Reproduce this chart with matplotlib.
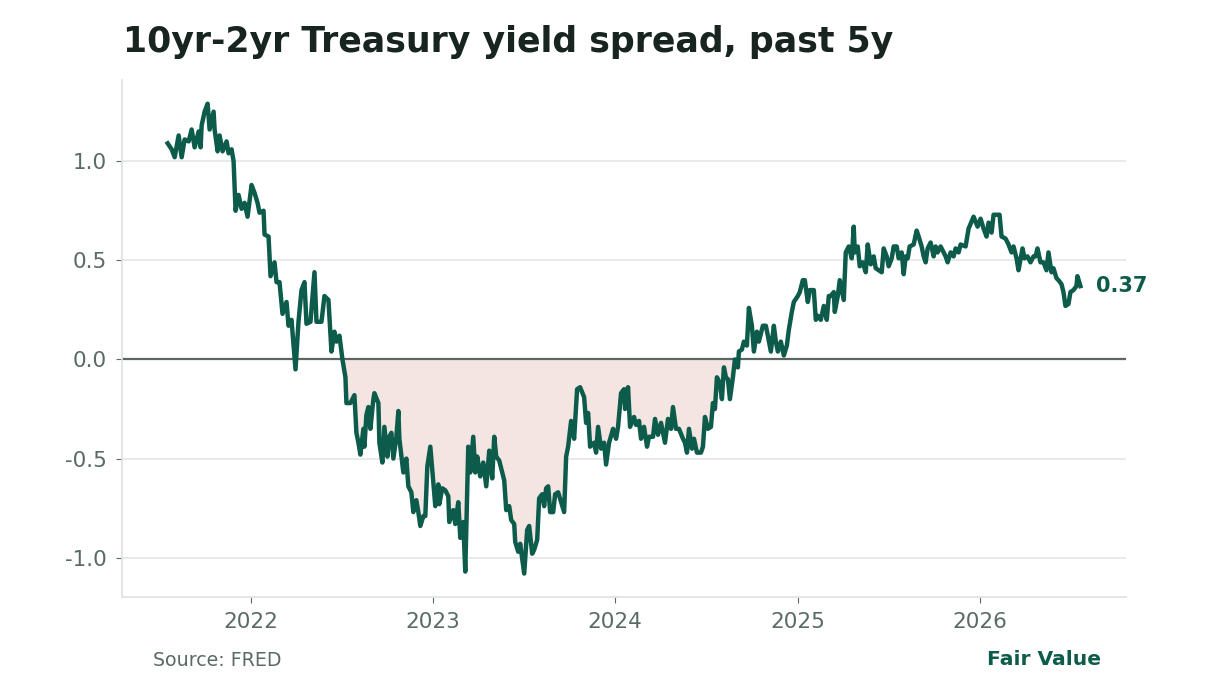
import matplotlib
matplotlib.use("Agg")
import matplotlib.pyplot as plt
import matplotlib.dates as mdates
import numpy as np
import pandas as pd

# 10yr-2yr spread (percentage points)
dates = [
    # 2021
    "2021-07-19", "2021-07-27", "2021-08-02", "2021-08-10", "2021-08-16", "2021-08-22",
    "2021-08-30", "2021-09-05", "2021-09-11", "2021-09-19", "2021-09-23", "2021-09-25",
    "2021-10-01", "2021-10-07", "2021-10-11", "2021-10-19", "2021-10-21", "2021-10-27",
    "2021-10-31", "2021-11-06", "2021-11-14", "2021-11-18", "2021-11-24", "2021-11-28",
    "2021-12-02", "2021-12-08", "2021-12-14", "2021-12-20", "2021-12-26",
    # 2022
    "2022-01-03", "2022-01-09", "2022-01-15", "2022-01-19", "2022-01-27", "2022-01-29",
    "2022-02-06", "2022-02-10", "2022-02-18", "2022-02-22", "2022-02-28", "2022-03-06",
    "2022-03-14", "2022-03-18", "2022-03-24", "2022-04-01", "2022-04-07", "2022-04-13",
    "2022-04-19", "2022-04-23", "2022-05-01", "2022-05-09", "2022-05-13", "2022-05-19",
    "2022-05-23", "2022-05-29", "2022-06-06", "2022-06-12", "2022-06-18", "2022-06-22",
    "2022-06-28", "2022-07-04", "2022-07-10", "2022-07-12", "2022-07-20", "2022-07-28",
    "2022-08-01", "2022-08-05", "2022-08-09", "2022-08-15", "2022-08-17", "2022-08-21",
    "2022-08-25", "2022-08-29", "2022-09-04", "2022-09-06", "2022-09-14", "2022-09-16",
    "2022-09-22", "2022-09-26", "2022-10-02", "2022-10-06", "2022-10-10", "2022-10-14",
    "2022-10-20", "2022-10-24", "2022-10-26", "2022-11-03", "2022-11-09", "2022-11-13",
    "2022-11-19", "2022-11-23", "2022-11-29", "2022-12-03", "2022-12-07", "2022-12-13",
    "2022-12-17", "2022-12-21", "2022-12-27",
    # 2023
    "2023-01-02", "2023-01-06", "2023-01-12", "2023-01-14", "2023-01-20", "2023-01-26",
    "2023-02-01", "2023-02-03", "2023-02-11", "2023-02-15", "2023-02-21", "2023-02-25",
    "2023-03-03", "2023-03-07", "2023-03-13", "2023-03-17", "2023-03-23", "2023-03-27",
    "2023-03-31", "2023-04-06", "2023-04-12", "2023-04-18", "2023-04-24", "2023-04-30",
    "2023-05-04", "2023-05-08", "2023-05-14", "2023-05-24", "2023-05-28", "2023-06-03",
    "2023-06-07", "2023-06-13", "2023-06-15", "2023-06-21", "2023-06-25", "2023-07-01",
    "2023-07-03", "2023-07-09", "2023-07-13", "2023-07-19", "2023-07-23", "2023-07-29",
    "2023-08-02", "2023-08-08", "2023-08-12", "2023-08-16", "2023-08-20", "2023-08-24",
    "2023-08-30", "2023-09-03", "2023-09-09", "2023-09-15", "2023-09-21", "2023-09-25",
    "2023-09-29", "2023-10-05", "2023-10-11", "2023-10-17", "2023-10-23", "2023-10-31",
    "2023-11-04", "2023-11-08", "2023-11-12", "2023-11-20", "2023-11-24", "2023-11-28",
    "2023-12-04", "2023-12-10", "2023-12-14", "2023-12-20", "2023-12-28",
    # 2024
    "2024-01-03", "2024-01-07", "2024-01-13", "2024-01-19", "2024-01-21", "2024-01-27",
    "2024-01-31", "2024-02-08", "2024-02-12", "2024-02-18", "2024-02-22", "2024-02-28",
    "2024-03-05", "2024-03-09", "2024-03-17", "2024-03-21", "2024-03-27", "2024-03-31",
    "2024-04-02", "2024-04-10", "2024-04-16", "2024-04-22", "2024-04-26", "2024-05-02",
    "2024-05-08", "2024-05-16", "2024-05-20", "2024-05-24", "2024-05-28", "2024-06-03",
    "2024-06-07", "2024-06-13", "2024-06-21", "2024-06-25", "2024-06-29", "2024-07-05",
    "2024-07-11", "2024-07-15", "2024-07-19", "2024-07-23", "2024-07-29", "2024-08-02",
    "2024-08-06", "2024-08-10", "2024-08-14", "2024-08-18", "2024-08-24", "2024-08-28",
    "2024-09-03", "2024-09-05", "2024-09-11", "2024-09-15", "2024-09-21", "2024-09-25",
    "2024-10-01", "2024-10-05", "2024-10-11", "2024-10-15", "2024-10-23", "2024-10-29",
    "2024-11-02", "2024-11-08", "2024-11-14", "2024-11-18", "2024-11-22", "2024-11-28",
    "2024-12-04", "2024-12-10", "2024-12-14", "2024-12-20", "2024-12-24",
    # 2025
    "2025-01-01", "2025-01-05", "2025-01-11", "2025-01-15", "2025-01-21", "2025-01-25",
    "2025-02-02", "2025-02-06", "2025-02-10", "2025-02-16", "2025-02-22", "2025-02-28",
    "2025-03-04", "2025-03-08", "2025-03-14", "2025-03-16", "2025-03-22", "2025-03-26",
    "2025-04-03", "2025-04-07", "2025-04-13", "2025-04-19", "2025-04-23", "2025-04-25",
    "2025-05-01", "2025-05-05", "2025-05-11", "2025-05-17", "2025-05-21", "2025-05-27",
    "2025-06-02", "2025-06-06", "2025-06-12", "2025-06-18", "2025-06-22", "2025-06-28",
    "2025-07-02", "2025-07-08", "2025-07-12", "2025-07-18", "2025-07-22", "2025-07-28",
    "2025-08-01", "2025-08-05", "2025-08-09", "2025-08-13", "2025-08-21", "2025-08-27",
    "2025-08-31", "2025-09-06", "2025-09-10", "2025-09-14", "2025-09-18", "2025-09-24",
    "2025-09-30", "2025-10-04", "2025-10-08", "2025-10-14", "2025-10-20", "2025-10-24",
    "2025-10-28", "2025-11-03", "2025-11-09", "2025-11-13", "2025-11-19", "2025-11-23",
    "2025-12-03", "2025-12-09", "2025-12-19", "2025-12-27",
    # 2026
    "2026-01-02", "2026-01-08", "2026-01-14", "2026-01-18", "2026-01-24", "2026-01-28",
    "2026-02-05", "2026-02-09", "2026-02-13", "2026-02-21", "2026-02-27", "2026-03-05",
    "2026-03-09", "2026-03-15", "2026-03-19", "2026-03-27", "2026-03-31", "2026-04-06",
    "2026-04-12", "2026-04-18", "2026-04-22", "2026-04-26", "2026-05-02", "2026-05-08",
    "2026-05-14", "2026-05-18", "2026-05-24", "2026-05-28", "2026-06-03", "2026-06-07",
    "2026-06-13", "2026-06-17", "2026-06-21", "2026-06-27", "2026-07-01", "2026-07-07",
    "2026-07-13", "2026-07-15", "2026-07-21",
]

spread = [
    # 2021
    1.09, 1.06, 1.02, 1.13, 1.02, 1.11,
    1.10, 1.16, 1.07, 1.15, 1.07, 1.18,
    1.25, 1.29, 1.16, 1.25, 1.16, 1.05,
    1.13, 1.05, 1.10, 1.04, 1.06, 1.00,
    0.75, 0.83, 0.76, 0.79, 0.72,
    # 2022
    0.88, 0.84, 0.79, 0.74, 0.75, 0.63,
    0.62, 0.42, 0.49, 0.39, 0.39, 0.23,
    0.29, 0.17, 0.20, -0.05, 0.19, 0.35,
    0.39, 0.18, 0.19, 0.44, 0.19, 0.19,
    0.19, 0.32, 0.30, 0.04, 0.14, 0.09,
    0.12, 0.00, -0.09, -0.22, -0.22, -0.18,
    -0.37, -0.42, -0.48, -0.35, -0.44, -0.28,
    -0.24, -0.35, -0.20, -0.17, -0.22, -0.42,
    -0.52, -0.34, -0.49, -0.39, -0.37, -0.50,
    -0.39, -0.26, -0.40, -0.57, -0.50, -0.64,
    -0.67, -0.77, -0.71, -0.77, -0.84, -0.79,
    -0.79, -0.54, -0.44,
    # 2023
    -0.62, -0.74, -0.63, -0.73, -0.65, -0.66,
    -0.69, -0.82, -0.76, -0.83, -0.72, -0.90,
    -0.82, -1.07, -0.44, -0.57, -0.39, -0.57,
    -0.49, -0.59, -0.52, -0.64, -0.46, -0.60,
    -0.39, -0.49, -0.51, -0.61, -0.76, -0.74,
    -0.81, -0.83, -0.92, -0.97, -0.93, -1.04,
    -1.08, -0.86, -0.84, -0.98, -0.96, -0.91,
    -0.70, -0.68, -0.74, -0.65, -0.64, -0.77,
    -0.77, -0.68, -0.67, -0.72, -0.77, -0.49,
    -0.44, -0.31, -0.40, -0.15, -0.14, -0.19,
    -0.32, -0.27, -0.44, -0.42, -0.47, -0.34,
    -0.45, -0.42, -0.53, -0.42, -0.35,
    # 2024
    -0.40, -0.34, -0.17, -0.15, -0.25, -0.14,
    -0.34, -0.29, -0.33, -0.31, -0.40, -0.34,
    -0.44, -0.39, -0.39, -0.30, -0.38, -0.34,
    -0.32, -0.42, -0.30, -0.35, -0.24, -0.35,
    -0.35, -0.40, -0.42, -0.47, -0.35, -0.45,
    -0.40, -0.47, -0.47, -0.44, -0.29, -0.35,
    -0.34, -0.22, -0.25, -0.09, -0.12, -0.20,
    -0.04, -0.09, -0.10, -0.20, -0.09, 0.00,
    -0.04, 0.04, 0.05, 0.09, 0.07, 0.26,
    0.17, 0.04, 0.14, 0.09, 0.17, 0.17,
    0.12, 0.04, 0.17, 0.09, 0.04, 0.09,
    0.02, 0.07, 0.15, 0.24, 0.29,
    # 2025
    0.32, 0.34, 0.40, 0.40, 0.29, 0.35,
    0.35, 0.20, 0.22, 0.20, 0.27, 0.20,
    0.32, 0.32, 0.34, 0.24, 0.32, 0.40,
    0.30, 0.54, 0.57, 0.51, 0.67, 0.54,
    0.57, 0.47, 0.49, 0.44, 0.58, 0.48,
    0.52, 0.46, 0.45, 0.44, 0.56, 0.52,
    0.47, 0.51, 0.57, 0.57, 0.51, 0.54,
    0.43, 0.52, 0.51, 0.57, 0.58, 0.65,
    0.62, 0.57, 0.52, 0.49, 0.56, 0.59,
    0.52, 0.57, 0.54, 0.57, 0.54, 0.52,
    0.49, 0.54, 0.52, 0.56, 0.54, 0.58,
    0.57, 0.66, 0.72, 0.67,
    # 2026
    0.71, 0.66, 0.62, 0.69, 0.64, 0.73,
    0.73, 0.73, 0.62, 0.61, 0.58, 0.54,
    0.57, 0.51, 0.45, 0.56, 0.51, 0.52,
    0.49, 0.52, 0.52, 0.56, 0.49, 0.49,
    0.45, 0.54, 0.44, 0.46, 0.41, 0.40,
    0.38, 0.34, 0.27, 0.28, 0.34, 0.35,
    0.37, 0.42, 0.37,
]

title = "10yr-2yr Treasury yield spread, past 5y"
source_text = "Source: FRED"
brand_text = "Fair Value"

line_color = "#0d5c4b"
text_gray = "#5a6b66"
grid_color = "#e3e7e6"

x = pd.to_datetime(dates)
y = np.array(spread)

plt.rcParams["font.family"] = "DejaVu Sans"
plt.rcParams["axes.unicode_minus"] = False

fig = plt.figure(figsize=(12.24, 6.8), dpi=100)
ax = fig.add_axes([0.0997, 0.122, 0.8203, 0.76])

# inversion shading
ax.fill_between(x, y, 0, where=y < 0, interpolate=True, color="#f5e5e2", lw=0, zorder=1)
ax.axhline(0, color="#5b6663", lw=1.6, zorder=2)
ax.plot(x, y, color=line_color, lw=3.2, solid_joinstyle="round", zorder=3)

ax.set_yticks([-1.0, -0.5, 0.0, 0.5, 1.0])
ax.yaxis.grid(True, color=grid_color, lw=1.2)
ax.set_axisbelow(True)

ax.xaxis.set_major_locator(mdates.YearLocator())
ax.xaxis.set_major_formatter(mdates.DateFormatter("%Y"))

for side in ["top", "right"]:
    ax.spines[side].set_visible(False)
for side in ["left", "bottom"]:
    ax.spines[side].set_color("#dde2e0")
    ax.spines[side].set_linewidth(1.2)

ax.tick_params(axis="y", length=4, color=text_gray, pad=7, labelsize=15.5, labelcolor=text_gray)
ax.tick_params(axis="x", length=4, color=text_gray, pad=7, labelsize=15.5, labelcolor=text_gray)

# last value label
ax.annotate(f"{y[-1]:.2f}", xy=(x[-1], y[-1]), xytext=(11, 0), textcoords="offset points",
            va="center", ha="left", fontsize=15, fontweight="bold", color=line_color)

fig.text(0.1005, 0.938, title, fontsize=25, fontweight="bold", color="#17241f", va="center")
fig.text(0.125, 0.029, source_text, fontsize=13.7, color=text_gray, va="center")
fig.text(0.8995, 0.030, brand_text, fontsize=14.6, fontweight="bold", color=line_color, va="center", ha="right")

fig.savefig("out.png", dpi=100)
